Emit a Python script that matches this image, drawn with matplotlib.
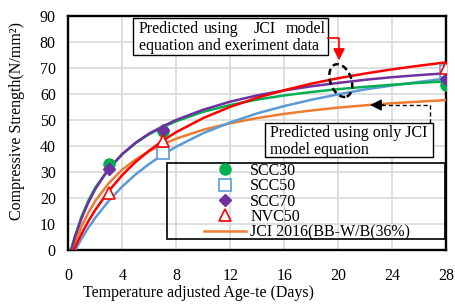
import numpy as np
import matplotlib
matplotlib.use("Agg")
import matplotlib.pyplot as plt
from matplotlib.lines import Line2D
from matplotlib.patches import Rectangle

plt.rcParams.update({
    "font.family": ["Liberation Serif", "DejaVu Serif"],
    "font.size": 11.5,
})

# ── 数据 ──────────────────────────────────────────────────────────────────────
# 实验数据点 (te, 强度)
scc30_t, scc30_v = [3, 7, 28], [33.2, 46.0, 63.5]
scc50_t, scc50_v = [7, 28], [37.5, 68.7]
scc70_t, scc70_v = [3, 7, 28], [31.2, 46.3, 65.9]
nvc50_t, nvc50_v = [3, 7, 28], [22.0, 42.0, 70.0]

# 模型曲线
c30_t = [0.2, 0.5, 1, 1.5, 2, 3, 4, 5, 6, 7, 8, 10, 12, 14, 16, 18, 20, 22, 24, 26, 28]
c30_v = [0, 5.6, 13.2, 19.2, 24.1, 31.3, 36.9, 41.2, 44.6, 47.3, 49.6, 53.2, 55.8, 57.9,
         59.5, 60.8, 61.9, 62.8, 63.6, 64.3, 64.9]
c70_t = [0.2, 0.5, 1, 1.5, 2, 3, 4, 5, 6, 7, 8, 10, 12, 14, 16, 18, 20, 22, 24, 26, 28]
c70_v = [0, 5.2, 12.5, 18.5, 23.5, 31.3, 37.0, 41.4, 44.9, 47.6, 50.1, 54.0, 57.1, 59.5,
         61.4, 63.0, 64.3, 65.5, 66.5, 67.3, 68.0]
c50_t = [0.5, 1, 1.5, 2, 3, 4, 5, 6, 7, 8, 10, 12, 14, 16, 18, 20, 22, 24, 26, 28]
c50_v = [0, 4.6, 8.8, 12.5, 19.0, 24.5, 29.2, 33.2, 36.7, 39.8, 45.0, 49.1, 52.6, 55.4,
         57.8, 59.9, 61.8, 63.3, 64.7, 66.0]
nvc_t = [0.4, 0.7, 1, 1.5, 2, 3, 4, 5, 6, 7, 8, 10, 12, 14, 16, 18, 20, 22, 24, 26, 28]
nvc_v = [0, 3.4, 6.5, 11.3, 15.5, 22.8, 28.9, 34.0, 38.3, 42.1, 45.4, 50.8, 55.1, 58.6,
         61.5, 64.0, 66.1, 67.9, 69.5, 70.9, 72.2]
jci_t = [0.3, 0.5, 1, 1.5, 2, 3, 4, 5, 6, 7, 8, 10, 12, 14, 16, 18, 20, 22, 24, 26, 28]
jci_v = [0, 3.0, 9.4, 14.6, 19.0, 25.8, 31.0, 34.9, 38.1, 40.7, 42.9, 46.3, 48.8, 50.8,
         52.4, 53.7, 54.8, 55.7, 56.5, 57.1, 57.7]

x_ticks = [0, 4, 8, 12, 16, 20, 24, 28]
y_ticks = [0, 10, 20, 30, 40, 50, 60, 70, 80, 90]

GREEN, BLUE, PURPLE, RED, ORANGE = "#00b050", "#5b9bd5", "#7030a0", "#ff0000", "#ed7d31"

# ── 绘图 ──────────────────────────────────────────────────────────────────────
fig = plt.figure(figsize=(4.56, 3.05), dpi=100)
ax = fig.add_axes([0.1498, 0.1793, 0.8283, 0.7682])

LW = 1.8
ax.plot(jci_t, jci_v, color=ORANGE, lw=LW, zorder=3)
ax.plot(c50_t, c50_v, color=BLUE, lw=LW, zorder=3)
ax.plot(c30_t, c30_v, color=GREEN, lw=LW, zorder=3)
ax.plot(c70_t, c70_v, color=PURPLE, lw=LW, zorder=3)
ax.plot(nvc_t, nvc_v, color=RED, lw=LW, zorder=3)

ax.plot(scc30_t, scc30_v, "o", ms=8, mfc=GREEN, mec=GREEN, ls="none", zorder=5)
ax.plot(scc50_t, scc50_v, "s", ms=8, mfc="white", mec=BLUE, mew=1.2, ls="none", zorder=5)
ax.plot(scc70_t, scc70_v, "D", ms=6.5, mfc=PURPLE, mec=PURPLE, ls="none", zorder=5)
ax.plot(nvc50_t, nvc50_v, "^", ms=8.5, mfc="white", mec=RED, mew=1.2, ls="none", zorder=5)

ax.set_xlim(0, 28)
ax.set_ylim(0, 90)
ax.set_xticks(x_ticks)
ax.set_yticks(y_ticks)
ax.tick_params(length=0)
ax.tick_params(axis="x", pad=13)
ax.tick_params(axis="y", pad=9)
ax.grid(True, color="#d9d9d9", lw=1.2, zorder=0)
ax.set_axisbelow(True)
for sp in ax.spines.values():
    sp.set_linewidth(1.7)
    sp.set_color("black")

ax.set_xlabel("Temperature adjusted Age-te (Days)")
ax.xaxis.set_label_coords(0.346, -0.150)
ax.set_ylabel("Compressive Strength(N/mm²)")
ax.yaxis.set_label_coords(-0.115, 0.552)

# ── 图例 ──────────────────────────────────────────────────────────────────────
handles = [
    Line2D([], [], marker="o", ms=8, mfc=GREEN, mec=GREEN, ls="none"),
    Line2D([], [], marker="s", ms=8, mfc="white", mec=BLUE, mew=1.2, ls="none"),
    Line2D([], [], marker="D", ms=6.5, mfc=PURPLE, mec=PURPLE, ls="none"),
    Line2D([], [], marker="^", ms=8.5, mfc="white", mec=RED, mew=1.2, ls="none"),
    Line2D([], [], color=ORANGE, lw=LW),
]
labels = ["SCC30", "SCC50", "SCC70", "NVC50", "JCI 2016(BB-W/B(36%)"]
ax.add_patch(Rectangle((7.31, 4.3), 20.62, 29.2, fill=False, ec="black", lw=1.2, zorder=4))
ax.legend(handles, labels, loc="upper left", bbox_to_anchor=(10.06, 33.6),
          bbox_transform=ax.transData, frameon=False, borderpad=0, borderaxespad=0,
          handlelength=2.6, handletextpad=0.3, labelspacing=-0.04, fontsize=11.5)

# ── 注释框 1 ─────────────────────────────────────────────────────────────────
ax.add_patch(Rectangle((4.80, 75.0), 14.45, 14.2, fc="white", ec="black", lw=1.0, zorder=6))
ax.text(5.24, 84.9, "Predicted", ha="left", va="center", zorder=7)
ax.text(11.32, 84.9, "using", ha="center", va="center", zorder=7)
ax.text(14.58, 84.9, "JCI", ha="center", va="center", zorder=7)
ax.text(19.1, 84.9, "model", ha="right", va="center", zorder=7)
ax.text(5.24, 78.6, "equation and exeriment data", ha="left", va="center", zorder=7)
ax.plot([19.25, 20.07, 20.07], [81.6, 81.6, 75.5], color=RED, lw=1.2, zorder=7)
ax.annotate("", xy=(20.07, 71.9), xytext=(20.07, 76.0),
            arrowprops=dict(arrowstyle="-|>,head_length=0.6,head_width=0.3",
                            color=RED, lw=1.2), zorder=7)

# 虚线椭圆（像素空间中倾斜）
phi = np.linspace(0, 2 * np.pi, 100)
th = np.deg2rad(-70)
a_px, b_px = 17, 10.5
dx = a_px * np.cos(phi) * np.cos(th) - b_px * np.sin(phi) * np.sin(th)
dy = a_px * np.cos(phi) * np.sin(th) + b_px * np.sin(phi) * np.cos(th)
ax.plot(20.2 + dx / 13.49, 65.2 + dy / 2.603, color="black", lw=1.8, ls=(0, (2.5, 1.5)), zorder=7)

# ── 注释框 2 ─────────────────────────────────────────────────────────────────
ax.add_patch(Rectangle((14.56, 35.7), 12.47, 13.1, fc="white", ec="black", lw=1.0, zorder=6))
ax.text(14.93, 45.0, "Predicted using only JCI", ha="left", va="center", zorder=7)
ax.text(14.93, 38.6, "model equation", ha="left", va="center", zorder=7)
ax.plot([26.79, 26.79, 23.0], [48.8, 55.8, 55.8], color="black", lw=1.0, ls=(0, (3, 2)), zorder=7)
ax.annotate("", xy=(22.16, 55.8), xytext=(23.6, 55.8),
            arrowprops=dict(arrowstyle="-|>,head_length=0.6,head_width=0.3",
                            color="black", lw=1.0), zorder=7)

fig.savefig("out.png", dpi=100)
plt.close(fig)
